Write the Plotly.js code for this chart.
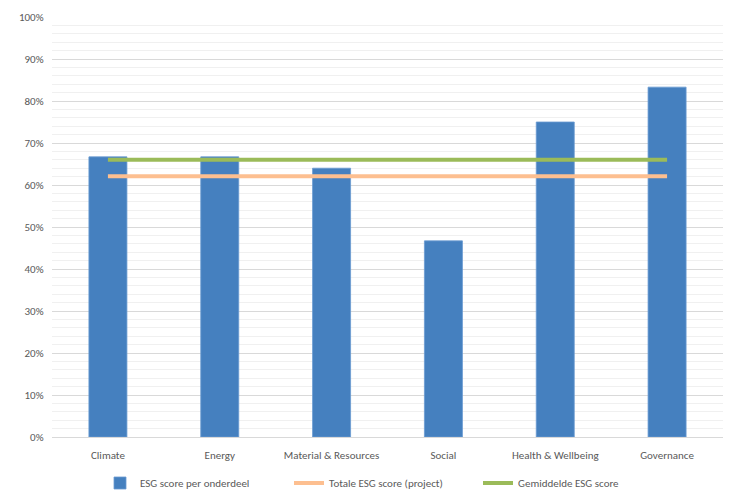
<!DOCTYPE html>
<html>
<head>
<meta charset="utf-8">
<script src="https://cdn.plot.ly/plotly-3.0.1.min.js"></script>
<style>html,body{margin:0;padding:0;background:#fff}#chart{width:729px;height:492px}</style>
</head>
<body>
<div id="chart"></div>
<script>
const categories = ["Climate", "Energy", "Material & Resources", "Social", "Health & Wellbeing", "Governance"];
const scorePerOnderdeel = [0.667, 0.667, 0.64, 0.467, 0.75, 0.833];
const totaleScore = [0.621, 0.621, 0.621, 0.621, 0.621, 0.621];
const gemiddeldeScore = [0.66, 0.66, 0.66, 0.66, 0.66, 0.66];
const seriesNames = ["ESG score per onderdeel", "Totale ESG score (project)", "Gemiddelde ESG score"];

const font = {family: "Carlito, 'Liberation Sans', Arial, sans-serif", size: 11, color: "#595959"};

const data = [
  {type: "bar", x: categories, y: scorePerOnderdeel, name: seriesNames[0],
   marker: {color: "#4580bf", line: {color: "#6a9bd2", width: 0.8}}, width: 0.34},
  {type: "scatter", mode: "lines", x: categories, y: totaleScore, name: seriesNames[1],
   line: {color: "#fdbf90", width: 4}},
  {type: "scatter", mode: "lines", x: categories, y: gemiddeldeScore, name: seriesNames[2],
   line: {color: "#9bbb59", width: 4}}
];

const layout = {
  width: 729, height: 492,
  margin: {l: 52, r: 6, t: 17, b: 55},
  paper_bgcolor: "#fff", plot_bgcolor: "#fff",
  font: font,
  showlegend: true,
  legend: {orientation: "h", xref: "container", yref: "container",
           x: 100 / 729, xanchor: "left", y: 9 / 492, yanchor: "middle",
           font: font, traceorder: "normal", itemwidth: 30,
           entrywidth: 144, entrywidthmode: "pixels"},
  xaxis: {type: "category", showgrid: false, zeroline: false, showline: false,
          ticks: "", tickfont: font, ticklabelstandoff: 10},
  yaxis: {range: [0, 1], dtick: 0.1, tickformat: ".0%", gridcolor: "#d9d9d9", gridwidth: 1,
          zeroline: true, zerolinecolor: "#d9d9d9", showline: false, ticks: "",
          tickfont: font, ticksuffix: "   ",
          minor: {dtick: 0.02, showgrid: true, gridcolor: "#f0f0f0", gridwidth: 1}},
  bargap: 0.66
};

Plotly.newPlot("chart", data, layout, {displayModeBar: false, staticPlot: true});
</script>
</body>
</html>
